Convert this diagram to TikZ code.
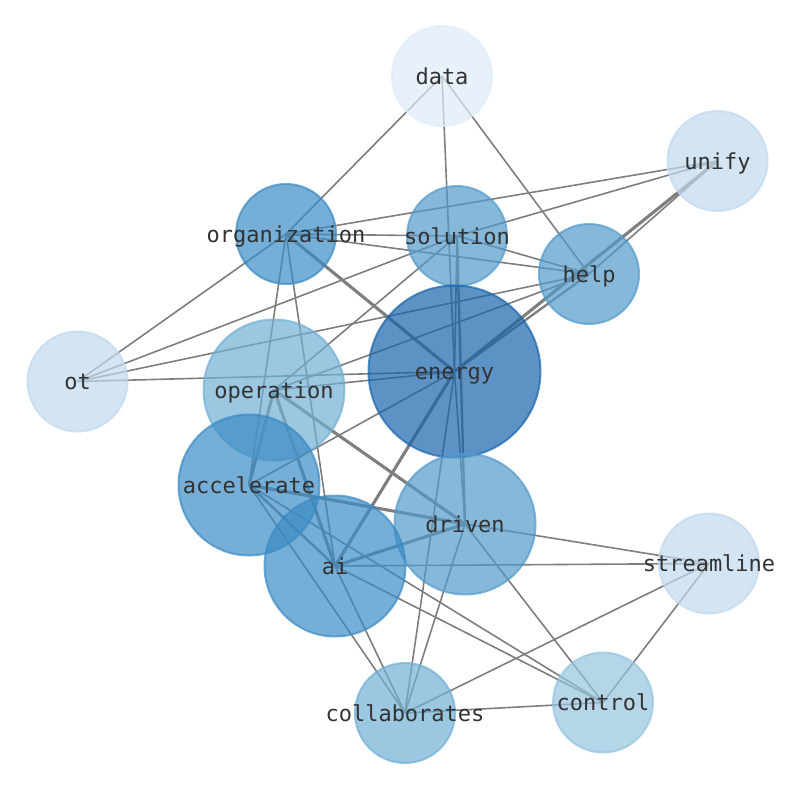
\documentclass[tikz,border=0pt]{standalone}
\usepackage{fontspec}
\setmonofont{DejaVu Sans Mono}
\pgfdeclarelayer{bg}
\pgfsetlayers{bg,main}
\definecolor{cEnergy}{RGB}{24,101,171}
\definecolor{cDark}{RGB}{58,139,196}
\definecolor{cMid}{RGB}{82,154,202}
\definecolor{cLight}{RGB}{112,175,212}
\definecolor{cCtrl}{RGB}{149,196,222}
\definecolor{cPale}{RGB}{192,216,238}
\definecolor{cData}{RGB}{222,235,248}
\definecolor{edgegray}{RGB}{126,126,126}
\definecolor{labelgray}{RGB}{50,50,50}
\begin{document}
\begin{tikzpicture}[x=1pt,y=-1pt,
  nd/.style={circle, inner sep=0pt, opacity=0.7, line width=2pt, fill=#1, draw=#1},
  sm/.style={nd=#1, minimum size=100pt},
  md/.style={nd=#1, minimum size=141pt},
  lg/.style={nd=#1, minimum size=172pt},
  lbl/.style={font=\ttfamily\fontsize{22}{26}\selectfont, text=labelgray, inner sep=0pt, text height=19.5pt, text depth=3pt},
  ed/.style={draw=edgegray, line width=1.6pt},
  edm/.style={draw=edgegray, line width=2.3pt},
  edt/.style={draw=edgegray, line width=3.1pt}]
\useasboundingbox (0,0) rectangle (794,790);
% nodes
\node[sm=cData]  (data) at (442,76) {};
\node[sm=cPale]  (unify) at (717.5,161) {};
\node[sm=cDark]  (org) at (286,234) {};
\node[sm=cMid]   (sol) at (457,236) {};
\node[sm=cMid]   (help) at (589,274) {};
\node[sm=cPale]  (ot) at (77.5,381.5) {};
\node[md=cLight] (oper) at (274,390) {};
\node[lg=cEnergy] (energy) at (454.5,371.5) {};
\node[md=cMid]   (driven) at (465,524) {};
\node[md=cDark]  (accel) at (249,485) {};
\node[md=cDark]  (ai) at (335,566) {};
\node[sm=cPale]  (stream) at (709,563.5) {};
\node[sm=cLight] (collab) at (405,713) {};
\node[sm=cCtrl]  (ctrl) at (603,702.5) {};
% edges
\begin{pgfonlayer}{bg}
\draw[ed] (data.center) -- (org.center);
\draw[ed] (data.center) -- (energy.center);
\draw[ed] (data.center) -- (help.center);
\draw[ed] (unify.center) -- (org.center);
\draw[ed] (unify.center) -- (sol.center);
\draw[ed] (unify.center) -- (help.center);
\draw[edt] (unify.center) -- (energy.center);
\draw[ed] (org.center) -- (sol.center);
\draw[ed] (org.center) -- (help.center);
\draw[edt] (org.center) -- (energy.center);
\draw[ed] (org.center) -- (ot.center);
\draw[ed] (org.center) -- (accel.center);
\draw[ed] (org.center) -- (ai.center);
\draw[ed] (sol.center) -- (help.center);
\draw[ed] (sol.center) -- (ot.center);
\draw[ed] (sol.center) -- (oper.center);
\draw[ed] (sol.center) -- (energy.center);
\draw[edm] (sol.center) -- (driven.center);
\draw[ed] (help.center) -- (ot.center);
\draw[ed] (help.center) -- (oper.center);
\draw[edm] (help.center) -- (energy.center);
\draw[ed] (ot.center) -- (energy.center);
\draw[ed] (oper.center) -- (energy.center);
\draw[edt] (oper.center) -- (accel.center);
\draw[edt] (oper.center) -- (ai.center);
\draw[edt] (oper.center) -- (driven.center);
\draw[ed] (energy.center) -- (accel.center);
\draw[edt] (energy.center) -- (ai.center);
\draw[ed] (energy.center) -- (driven.center);
\draw[ed] (energy.center) -- (collab.center);
\draw[edt] (accel.center) -- (driven.center);
\draw[edm] (accel.center) -- (ai.center);
\draw[ed] (accel.center) -- (collab.center);
\draw[ed] (accel.center) -- (ctrl.center);
\draw[edt] (ai.center) -- (driven.center);
\draw[ed] (ai.center) -- (stream.center);
\draw[ed] (ai.center) -- (collab.center);
\draw[ed] (ai.center) -- (ctrl.center);
\draw[ed] (driven.center) -- (stream.center);
\draw[ed] (driven.center) -- (collab.center);
\draw[ed] (driven.center) -- (ctrl.center);
\draw[ed] (stream.center) -- (collab.center);
\draw[ed] (stream.center) -- (ctrl.center);
\draw[ed] (collab.center) -- (ctrl.center);
\end{pgfonlayer}
% labels
\node[lbl] (data-l) at (data) {data};
\node[lbl] (unify-l) at (unify) {unify};
\node[lbl] (org-l) at (org) {organization};
\node[lbl] (sol-l) at (sol) {solution};
\node[lbl] (help-l) at (help) {help};
\node[lbl] (ot-l) at (ot) {ot};
\node[lbl] (oper-l) at (oper) {operation};
\node[lbl] (energy-l) at (energy) {energy};
\node[lbl] (driven-l) at (driven) {driven};
\node[lbl] (accel-l) at (accel) {accelerate};
\node[lbl] (ai-l) at (ai) {ai};
\node[lbl] (stream-l) at (stream) {streamline};
\node[lbl] (collab-l) at (collab) {collaborates};
\node[lbl] (ctrl-l) at (ctrl) {control};
\end{tikzpicture}
\end{document}
